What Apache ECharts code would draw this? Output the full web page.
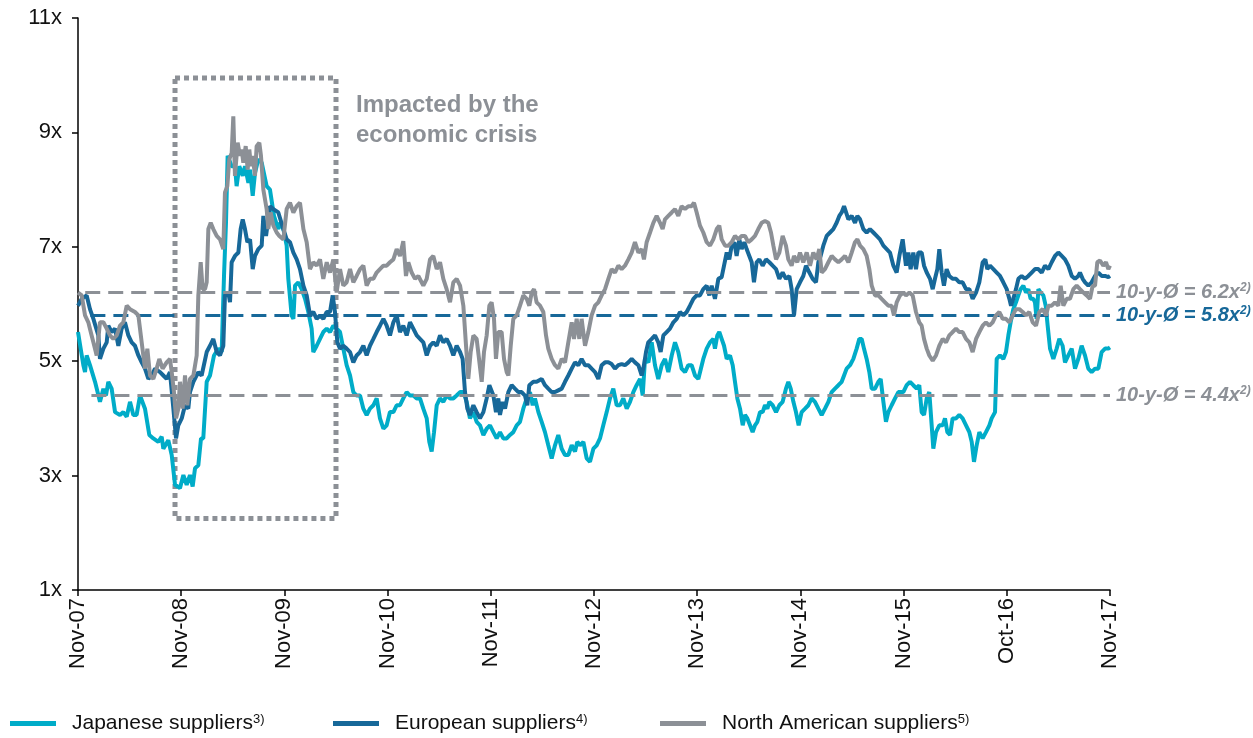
<!DOCTYPE html>
<html><head><meta charset="utf-8">
<script src="https://cdn.jsdelivr.net/npm/echarts@6.0.0/dist/echarts.min.js"></script>
<style>html,body{margin:0;padding:0;background:#fff}#c{width:1253px;height:738px}</style>
</head><body><div id="c"></div>
<script>
// x in years since Nov-07 (0..10)
const xLabels = ['Nov-07','Nov-08','Nov-09','Nov-10','Nov-11','Nov-12','Nov-13','Nov-14','Nov-15','Oct-16','Nov-17'];
const seriesNames = ['Japanese suppliers','European suppliers','North American suppliers'];
const seriesNotes = ['3)','4)','5)'];

const japanese = [
[0,5.51],[0.052,4.93],[0.068,4.81],[0.084,5.10],[0.116,4.93],[0.165,4.64],[0.213,4.29],[0.246,4.52],[0.271,4.40],[0.294,4.64],[0.326,4.52],[0.359,4.11],[0.407,4.06],[0.439,4.11],[0.472,4.03],[0.504,4.29],[0.536,4.06],[0.568,4.06],[0.601,4.40],[0.649,4.17],[0.691,3.71],[0.730,3.65],[0.778,3.59],[0.811,3.68],[0.827,3.47],[0.875,3.62],[0.908,3.36],[0.940,2.84],[0.988,2.78],[1.021,3.01],[1.053,2.84],[1.085,3.01],[1.111,2.81],[1.134,3.13],[1.166,3.18],[1.192,3.65],[1.214,3.65],[1.247,4.64],[1.279,4.75],[1.318,5.10],[1.360,5.22],[1.392,5.16],[1.415,6.50],[1.434,7.42],[1.450,8.59],[1.489,8.41],[1.521,8.41],[1.537,8.06],[1.563,8.41],[1.596,8.24],[1.618,8.41],[1.651,8.12],[1.667,8.35],[1.693,7.89],[1.715,8.29],[1.747,8.53],[1.780,8.47],[1.828,8.06],[1.860,8.00],[1.899,7.54],[1.941,7.31],
[1.957,7.42],[1.990,7.31],[2.022,7.02],[2.038,6.44],[2.070,5.80],[2.087,5.74],[2.103,6.32],[2.135,6.38],[2.167,6.26],[2.200,6.09],[2.232,5.86],[2.264,5.57],[2.280,5.16],[2.313,5.27],[2.345,5.39],[2.377,5.51],[2.410,5.57],[2.442,5.51],[2.474,5.62],[2.506,5.57],[2.539,5.51],[2.571,5.22],[2.603,4.93],[2.636,4.75],[2.668,4.46],[2.700,4.40],[2.733,4.40],[2.765,4.17],[2.797,4.06],[2.829,4.17],[2.862,4.23],[2.894,4.35],[2.926,4.00],[2.959,3.82],[2.991,3.88],[3.023,4.11],[3.056,4.11],[3.088,4.23],[3.120,4.23],[3.152,4.35],[3.185,4.46],[3.217,4.40],[3.249,4.40],[3.282,4.35],[3.314,4.35],[3.346,4.17],[3.379,4.00],[3.404,3.59],[3.427,3.42],[3.450,3.76],[3.476,4.23],[3.508,4.35],[3.540,4.29],[3.572,4.40],[3.605,4.35],[3.637,4.35],[3.669,4.40],[3.702,4.46],[3.734,4.46],[3.766,4.29],[3.798,4.00],[3.831,4.11],[3.863,3.94],[3.895,3.88],[3.928,3.71],[3.960,3.82],[3.992,3.88],
[4.025,3.76],[4.057,3.65],[4.089,3.76],[4.121,3.65],[4.154,3.65],[4.186,3.71],[4.218,3.76],[4.251,3.88],[4.283,3.94],[4.315,4.17],[4.348,4.35],[4.380,4.46],[4.406,4.23],[4.428,4.35],[4.461,4.11],[4.493,3.94],[4.525,3.76],[4.557,3.53],[4.590,3.30],[4.622,3.53],[4.654,3.71],[4.687,3.47],[4.719,3.36],[4.751,3.36],[4.784,3.53],[4.816,3.42],[4.838,3.59],[4.864,3.53],[4.897,3.59],[4.929,3.30],[4.961,3.24],[4.994,3.47],[5.026,3.53],[5.058,3.65],[5.090,3.88],[5.123,4.11],[5.155,4.35],[5.187,4.52],[5.220,4.23],[5.252,4.23],[5.284,4.35],[5.317,4.17],[5.349,4.29],[5.381,4.46],[5.413,4.58],[5.446,4.69],[5.472,4.40],[5.494,5.04],[5.527,4.98],[5.559,5.33],[5.591,4.93],[5.623,4.69],[5.656,4.93],[5.688,5.04],[5.720,4.81],[5.753,5.10],[5.785,5.33],[5.817,5.16],[5.849,4.87],[5.882,4.81],[5.914,4.93],[5.946,4.93],[5.979,4.75],[6.011,4.69],
[6.059,5.04],[6.092,5.22],[6.124,5.33],[6.156,5.39],[6.172,5.22],[6.195,5.45],[6.214,5.51],[6.237,5.39],[6.260,5.27],[6.286,5.04],[6.318,5.10],[6.344,4.93],[6.366,4.64],[6.389,4.35],[6.415,4.17],[6.441,3.88],[6.463,4.06],[6.486,4.00],[6.512,3.88],[6.537,3.76],[6.560,3.88],[6.583,3.94],[6.609,4.11],[6.634,4.11],[6.657,4.23],[6.680,4.17],[6.699,4.29],[6.731,4.23],[6.764,4.11],[6.796,4.23],[6.828,4.29],[6.860,4.52],[6.883,4.64],[6.906,4.52],[6.932,4.29],[6.957,4.11],[6.983,3.88],[7.012,4.11],[7.045,4.17],[7.077,4.23],[7.109,4.35],[7.141,4.29],[7.174,4.17],[7.206,4.06],[7.238,4.17],[7.271,4.29],[7.303,4.46],[7.335,4.52],[7.368,4.58],[7.400,4.64],[7.423,4.75],[7.448,4.87],[7.481,4.93],[7.513,5.04],[7.545,5.22],[7.571,5.39],[7.594,5.39],[7.616,5.22],[7.642,5.04],[7.668,4.81],[7.691,4.52],[7.723,4.52],[7.755,4.64],[7.778,4.69],[7.804,4.29],[7.829,3.94],[7.852,4.11],[7.884,4.23],[7.917,4.35],[7.949,4.46],
[7.997,4.46],[8.030,4.58],[8.062,4.64],[8.094,4.58],[8.127,4.52],[8.152,4.58],[8.175,4.11],[8.198,4.06],[8.224,4.35],[8.249,4.46],[8.272,3.88],[8.288,3.47],[8.314,3.76],[8.346,3.88],[8.379,3.88],[8.401,4.00],[8.424,3.76],[8.450,3.71],[8.475,4.00],[8.508,4.00],[8.540,4.06],[8.572,4.00],[8.605,3.88],[8.637,3.76],[8.660,3.59],[8.682,3.24],[8.708,3.53],[8.734,3.76],[8.766,3.65],[8.798,3.76],[8.831,3.88],[8.853,4.00],[8.886,4.11],[8.902,5.04],[8.934,5.10],[8.966,5.04],[8.992,5.16],[9.015,5.45],[9.037,5.68],[9.063,5.91],[9.089,6.03],[9.112,6.15],[9.134,6.26],[9.160,6.32],[9.186,6.20],[9.209,6.26],[9.231,6.09],[9.257,6.09],[9.273,6.03],[9.289,5.74],[9.306,6.26],[9.328,6.20],[9.354,6.15],[9.377,5.97],[9.396,5.62],[9.419,5.22],[9.451,5.04],[9.483,5.22],[9.509,5.39],[9.541,5.27],[9.564,4.98],[9.596,5.10],[9.629,5.22],[9.661,4.87],[9.693,5.04],[9.725,5.27],[9.758,5.10],[9.790,4.87],[9.822,4.81],[9.855,4.87],[9.887,4.87],[9.919,5.16],[9.952,5.22],[9.984,5.22],[10.0,5.24]
];

const european = [
[0,5.97],[0.036,6.09],[0.084,6.15],[0.116,5.91],[0.149,5.74],[0.197,5.45],[0.213,5.04],[0.246,5.22],[0.278,5.33],[0.294,5.62],[0.326,5.51],[0.359,5.57],[0.391,5.27],[0.423,5.57],[0.455,5.68],[0.488,5.45],[0.520,5.33],[0.552,5.27],[0.585,5.10],[0.617,4.98],[0.649,4.87],[0.682,4.69],[0.714,4.75],[0.746,4.87],[0.795,4.81],[0.827,4.75],[0.859,4.69],[0.891,4.81],[0.924,4.17],[0.950,3.65],[0.972,3.88],[1.005,4.00],[1.037,4.23],[1.069,4.17],[1.085,4.46],[1.118,4.64],[1.166,4.81],[1.198,4.75],[1.214,4.75],[1.247,5.16],[1.279,5.27],[1.311,5.39],[1.344,5.16],[1.376,5.10],[1.408,5.27],[1.424,6.15],[1.457,6.20],[1.473,6.03],[1.489,6.73],[1.521,6.84],[1.554,6.90],[1.576,7.31],[1.596,7.48],[1.618,7.31],[1.641,7.08],[1.667,7.13],[1.693,6.61],[1.715,6.84],[1.747,6.96],[1.780,7.02],[1.796,7.54],[1.822,7.19],[1.860,7.71],[1.893,7.66],[1.941,7.60],
[1.957,7.60],[1.990,7.31],[2.022,7.13],[2.054,7.08],[2.087,6.90],[2.119,6.78],[2.151,6.61],[2.184,6.32],[2.216,6.15],[2.248,5.80],[2.280,5.86],[2.313,5.74],[2.345,5.80],[2.377,5.74],[2.410,5.86],[2.442,5.86],[2.468,6.15],[2.490,5.86],[2.513,5.33],[2.539,5.22],[2.571,5.27],[2.603,5.22],[2.636,5.16],[2.668,4.98],[2.700,5.10],[2.733,5.16],[2.765,5.27],[2.797,5.10],[2.829,5.27],[2.862,5.39],[2.894,5.51],[2.926,5.62],[2.959,5.74],[2.991,5.62],[3.023,5.45],[3.056,5.68],[3.088,5.80],[3.120,5.51],[3.152,5.62],[3.185,5.45],[3.217,5.68],[3.249,5.57],[3.282,5.45],[3.314,5.39],[3.346,5.33],[3.379,5.10],[3.411,5.27],[3.443,5.33],[3.476,5.27],[3.508,5.45],[3.540,5.33],[3.572,5.39],[3.605,5.27],[3.637,5.10],[3.669,5.27],[3.702,5.16],[3.727,5.04],[3.750,4.46],[3.773,4.17],[3.798,4.06],[3.831,4.23],[3.863,4.11],[3.895,4.00],[3.928,4.11],[3.960,4.35],[3.986,4.58],
[4.025,4.40],[4.050,4.11],[4.073,4.35],[4.089,4.06],[4.115,4.29],[4.138,4.17],[4.170,4.46],[4.202,4.58],[4.234,4.52],[4.267,4.46],[4.299,4.46],[4.331,4.40],[4.354,4.23],[4.373,4.58],[4.412,4.64],[4.444,4.64],[4.493,4.69],[4.525,4.58],[4.557,4.52],[4.590,4.46],[4.622,4.46],[4.654,4.49],[4.687,4.52],[4.719,4.64],[4.751,4.75],[4.784,4.87],[4.816,4.98],[4.848,4.93],[4.880,5.04],[4.913,4.93],[4.945,4.93],[4.977,4.87],[5.010,4.81],[5.042,4.69],[5.074,4.93],[5.107,4.98],[5.139,4.98],[5.171,4.95],[5.203,4.87],[5.236,4.93],[5.268,4.95],[5.300,4.93],[5.333,4.98],[5.365,5.04],[5.397,4.98],[5.430,4.93],[5.462,4.75],[5.484,4.93],[5.504,5.16],[5.526,5.33],[5.559,5.39],[5.591,5.45],[5.623,5.33],[5.646,5.16],[5.672,5.45],[5.704,5.51],[5.736,5.57],[5.769,5.68],[5.801,5.74],[5.833,5.86],[5.866,5.80],[5.898,5.86],[5.930,5.97],[5.963,6.09],[5.995,6.15],[6.027,6.15],
[6.059,6.26],[6.092,6.32],[6.118,6.15],[6.140,6.32],[6.172,6.09],[6.205,6.44],[6.237,6.47],[6.260,6.67],[6.286,6.90],[6.311,6.78],[6.334,7.02],[6.360,7.08],[6.382,6.84],[6.408,7.13],[6.431,6.96],[6.457,7.08],[6.479,6.96],[6.505,6.84],[6.528,6.73],[6.550,6.38],[6.576,6.73],[6.602,6.78],[6.634,6.67],[6.667,6.78],[6.699,6.73],[6.731,6.67],[6.764,6.61],[6.796,6.44],[6.828,6.55],[6.860,6.44],[6.893,6.49],[6.915,6.26],[6.938,5.80],[6.964,6.26],[6.996,6.38],[7.028,6.49],[7.054,6.67],[7.087,6.55],[7.119,6.44],[7.151,6.38],[7.174,6.73],[7.196,6.84],[7.222,7.02],[7.255,7.19],[7.287,7.25],[7.319,7.31],[7.351,7.42],[7.377,7.54],[7.400,7.60],[7.423,7.71],[7.442,7.74],[7.465,7.48],[7.497,7.54],[7.529,7.42],[7.552,7.54],[7.578,7.48],[7.610,7.31],[7.642,7.25],[7.674,7.31],[7.707,7.25],[7.739,7.19],[7.771,7.13],[7.804,7.02],[7.836,6.96],[7.868,6.90],[7.901,6.67],[7.933,6.55],[7.959,6.84],
[7.991,7.13],[8.023,6.67],[8.046,6.90],[8.068,6.61],[8.094,6.90],[8.120,6.61],[8.143,6.90],[8.175,6.90],[8.198,6.67],[8.224,6.55],[8.256,6.44],[8.282,6.26],[8.304,6.44],[8.327,6.61],[8.346,6.96],[8.369,6.55],[8.391,6.32],[8.417,6.61],[8.443,6.49],[8.475,6.44],[8.508,6.44],[8.540,6.38],[8.572,6.38],[8.605,6.26],[8.637,6.26],[8.669,6.09],[8.702,6.20],[8.734,6.38],[8.766,6.73],[8.792,6.78],[8.811,6.61],[8.837,6.67],[8.870,6.61],[8.902,6.55],[8.934,6.49],[8.966,6.38],[8.999,6.26],[9.025,6.09],[9.041,5.97],[9.063,6.09],[9.089,6.26],[9.112,6.44],[9.144,6.49],[9.176,6.44],[9.209,6.49],[9.241,6.55],[9.273,6.61],[9.306,6.61],[9.338,6.55],[9.370,6.67],[9.403,6.61],[9.435,6.73],[9.467,6.84],[9.499,6.90],[9.532,6.84],[9.564,6.78],[9.596,6.67],[9.629,6.49],[9.661,6.44],[9.693,6.49],[9.709,6.55],[9.735,6.44],[9.758,6.38],[9.790,6.32],[9.822,6.38],[9.855,6.49],[9.887,6.55],[9.919,6.49],[9.952,6.49],[9.984,6.47],[10.0,6.49]
];

const northAmerican = [
[0,6.20],[0.036,6.15],[0.068,5.80],[0.100,5.68],[0.132,5.45],[0.149,5.33],[0.181,5.10],[0.213,5.68],[0.246,5.68],[0.278,5.57],[0.310,5.45],[0.342,5.39],[0.375,5.45],[0.407,5.62],[0.439,5.68],[0.472,5.97],[0.504,5.91],[0.552,5.86],[0.585,5.80],[0.617,5.33],[0.649,4.87],[0.672,5.22],[0.698,4.75],[0.730,4.69],[0.762,4.87],[0.788,5.04],[0.820,4.87],[0.859,4.98],[0.891,5.04],[0.908,4.81],[0.930,4.46],[0.950,4.00],[0.972,4.17],[0.988,4.64],[1.014,4.17],[1.037,4.75],[1.059,4.23],[1.085,4.69],[1.118,4.75],[1.150,5.10],[1.166,6.15],[1.189,6.73],[1.208,6.26],[1.231,6.26],[1.247,6.38],[1.263,7.31],[1.286,7.42],[1.311,7.31],[1.344,7.19],[1.376,7.13],[1.408,6.96],[1.424,7.95],[1.447,8.06],[1.466,8.53],[1.489,8.64],[1.505,9.28],[1.521,8.24],[1.547,8.82],[1.570,8.59],[1.586,8.70],[1.602,8.47],[1.625,8.76],[1.644,8.35],[1.660,8.70],[1.676,8.41],[1.693,8.59],[1.715,8.24],[1.731,8.76],[1.757,8.82],[1.773,8.59],[1.796,8.00],[1.828,7.66],[1.844,7.31],[1.867,7.60],[1.893,7.37],[1.925,7.25],[1.951,7.19],
[1.990,7.13],[2.022,7.66],[2.054,7.77],[2.087,7.60],[2.119,7.71],[2.151,7.77],[2.184,7.31],[2.216,7.08],[2.248,6.61],[2.280,6.73],[2.313,6.67],[2.345,6.78],[2.377,6.44],[2.410,6.73],[2.442,6.55],[2.474,6.78],[2.506,6.20],[2.539,6.61],[2.571,6.32],[2.603,6.38],[2.636,6.61],[2.668,6.38],[2.700,6.49],[2.733,6.61],[2.765,6.67],[2.797,6.32],[2.829,6.44],[2.862,6.44],[2.894,6.55],[2.926,6.61],[2.959,6.67],[2.991,6.67],[3.023,6.73],[3.056,6.78],[3.088,6.96],[3.120,6.84],[3.152,7.10],[3.178,6.49],[3.201,6.73],[3.233,6.55],[3.266,6.44],[3.298,6.49],[3.346,6.32],[3.379,6.44],[3.411,6.78],[3.443,6.84],[3.476,6.61],[3.508,6.73],[3.540,6.44],[3.572,6.26],[3.605,6.03],[3.637,6.38],[3.669,6.44],[3.702,6.32],[3.734,5.97],[3.760,5.27],[3.782,4.69],[3.805,5.16],[3.831,5.45],[3.863,5.39],[3.886,5.04],[3.912,4.64],[3.934,5.16],[3.960,5.45],[3.986,5.97],
[4.008,6.03],[4.031,5.74],[4.050,5.04],[4.073,5.51],[4.105,5.51],[4.128,5.04],[4.154,4.81],[4.170,4.75],[4.193,5.27],[4.218,5.74],[4.251,5.80],[4.283,5.97],[4.315,6.15],[4.348,6.09],[4.373,5.97],[4.396,6.20],[4.419,6.26],[4.444,6.03],[4.477,5.97],[4.509,5.86],[4.535,5.45],[4.557,5.22],[4.590,5.04],[4.622,4.93],[4.654,4.87],[4.687,5.04],[4.719,4.98],[4.751,5.33],[4.784,5.68],[4.806,5.39],[4.832,5.74],[4.858,5.39],[4.880,5.74],[4.913,5.27],[4.945,5.51],[4.977,5.80],[5.010,5.97],[5.042,6.03],[5.074,6.15],[5.107,6.26],[5.139,6.44],[5.171,6.61],[5.203,6.55],[5.236,6.67],[5.268,6.61],[5.300,6.67],[5.333,6.78],[5.365,6.90],[5.397,7.08],[5.430,6.90],[5.462,6.96],[5.484,6.78],[5.510,7.08],[5.543,7.25],[5.575,7.42],[5.607,7.54],[5.640,7.42],[5.665,7.31],[5.688,7.48],[5.720,7.54],[5.753,7.60],[5.785,7.66],[5.817,7.54],[5.849,7.71],[5.882,7.66],[5.914,7.71],[5.946,7.71],[5.969,7.77],[5.995,7.60],[6.027,7.37],
[6.059,7.25],[6.092,7.08],[6.124,7.02],[6.156,7.13],[6.189,7.31],[6.214,7.37],[6.237,7.13],[6.270,7.02],[6.302,7.02],[6.334,7.08],[6.366,7.19],[6.399,7.13],[6.431,7.19],[6.463,7.19],[6.495,7.08],[6.528,7.13],[6.560,7.19],[6.592,7.31],[6.625,7.42],[6.657,7.45],[6.689,7.42],[6.715,7.25],[6.738,7.02],[6.764,6.78],[6.796,6.90],[6.828,7.19],[6.860,7.02],[6.883,6.78],[6.915,6.67],[6.938,6.84],[6.970,6.73],[6.996,6.90],[7.028,6.73],[7.061,6.90],[7.093,6.67],[7.125,6.90],[7.157,6.78],[7.183,6.96],[7.206,6.55],[7.238,6.61],[7.271,6.73],[7.303,6.84],[7.335,6.78],[7.368,6.73],[7.400,6.78],[7.432,6.84],[7.465,6.73],[7.497,6.90],[7.529,7.08],[7.552,7.13],[7.578,7.02],[7.610,6.96],[7.642,6.84],[7.668,6.61],[7.691,6.32],[7.723,6.15],[7.755,6.15],[7.787,6.09],[7.820,6.03],[7.852,5.97],[7.884,5.97],[7.907,5.80],[7.933,6.03],[7.965,6.15],
[7.997,6.20],[8.023,6.15],[8.056,6.20],[8.088,6.15],[8.120,5.86],[8.152,5.68],[8.175,5.62],[8.198,5.39],[8.224,5.22],[8.249,5.10],[8.282,5.01],[8.314,5.10],[8.346,5.27],[8.379,5.39],[8.411,5.33],[8.443,5.45],[8.475,5.51],[8.508,5.57],[8.540,5.51],[8.572,5.51],[8.605,5.39],[8.637,5.33],[8.669,5.16],[8.702,5.39],[8.734,5.51],[8.766,5.62],[8.798,5.68],[8.831,5.62],[8.863,5.68],[8.895,5.80],[8.928,5.86],[8.960,5.74],[8.992,5.74],[9.025,5.68],[9.057,5.80],[9.089,5.91],[9.121,5.91],[9.154,5.86],[9.186,5.80],[9.218,5.86],[9.251,5.68],[9.283,5.62],[9.315,5.86],[9.348,5.91],[9.380,5.80],[9.403,5.97],[9.435,5.97],[9.467,6.03],[9.499,5.97],[9.522,6.32],[9.548,5.97],[9.580,6.09],[9.612,6.09],[9.645,6.26],[9.677,6.32],[9.709,6.26],[9.742,6.20],[9.774,6.15],[9.806,6.09],[9.832,6.32],[9.855,6.32],[9.877,6.73],[9.903,6.76],[9.935,6.67],[9.961,6.73],[9.984,6.61],[10.0,6.67]
];

// 10-year averages
const avgValues = [6.2, 5.8, 4.4];
const avgStarts = [0.07, 0.12, 0.13];
const avgLabels = ['10-y-Ø = 6.2x', '10-y-Ø = 5.8x', '10-y-Ø = 4.4x'];
// crisis box corners [year, multiple]
const crisisBox = [[0.94, 9.95], [2.50, 2.25]];
const crisisText = ['Impacted by the', 'economic crisis'];

const colors = ['#00ACC8', '#176899', '#8C9096'];
const avgColors = ['#8C9096', '#176899', '#8C9096'];
const FONT = "'Liberation Sans', Arial, sans-serif";

const chart = echarts.init(document.getElementById('c'), null, {renderer: 'canvas'});

const supRich = (color) => ({
  a: {fontFamily: FONT, fontSize: 20, fontStyle: 'italic', fontWeight: 'bold', color: color, lineHeight: 22},
  s: {fontFamily: FONT, fontSize: 12, fontStyle: 'italic', fontWeight: 'bold', color: color, verticalAlign: 'top', lineHeight: 22, padding: [0,0,10,0]}
});

const markLineData = avgValues.map((v, i) => [
  {coord: [avgStarts[i], v],
   lineStyle: {color: avgColors[i], width: 3, type: [15, 8]},
   label: {show: true, position: 'end', distance: 6, formatter: '{a|' + avgLabels[i] + '}{s|2)}', rich: supRich(avgColors[i])}},
  {coord: [10, v]}
]);

const legendRich = {
  n: {fontFamily: FONT, fontSize: 21, color: '#111', padding: [0,0,0,11]},
  s: {fontFamily: FONT, fontSize: 13, color: '#111', verticalAlign: 'top', padding: [0,0,8,0]}
};
const legendLefts = [10, 333, 660];

const option = {
  animation: false,
  backgroundColor: '#fff',
  grid: {left: 78, right: 143, top: 18, bottom: 148, containLabel: false},
  legend: seriesNames.map((n, i) => ({
    data: [n], left: legendLefts[i], top: 713, padding: 0, icon: 'rect', itemWidth: 46, itemHeight: 5,
    selectedMode: false,
    formatter: name => '{n|' + name + '}{s|' + seriesNotes[i] + '}',
    textStyle: {rich: legendRich}
  })),
  xAxis: {
    type: 'value', min: 0, max: 10, interval: 1,
    axisLine: {show: true, lineStyle: {color: '#000', width: 1.5}},
    axisTick: {show: true, length: 6, lineStyle: {color: '#000', width: 1.5}},
    splitLine: {show: false},
    axisLabel: {rotate: 90, margin: 8, fontFamily: FONT, fontSize: 22, color: '#111',
      formatter: v => xLabels[Math.round(v)] || ''}
  },
  yAxis: {
    type: 'value', min: 1, max: 11, interval: 2,
    axisLine: {show: true, lineStyle: {color: '#000', width: 1.5}},
    axisTick: {show: true, length: 6, lineStyle: {color: '#000', width: 1.5}},
    splitLine: {show: false},
    axisLabel: {margin: 16, fontFamily: FONT, fontSize: 22, color: '#111', formatter: '{value}x'}
  },
  graphic: [{
    type: 'text', left: 356, top: 90, silent: true,
    style: {text: crisisText.join('\n'), fontFamily: FONT, fontSize: 24, fontWeight: 'bold', fill: '#8C9096', lineHeight: 30}
  }],
  series: [
    {name: seriesNames[0], type: 'line', data: japanese, showSymbol: false, symbol: 'none', z: 3,
     lineStyle: {color: colors[0], width: 4}, itemStyle: {color: colors[0]}},
    {name: seriesNames[1], type: 'line', data: european, showSymbol: false, symbol: 'none', z: 4,
     lineStyle: {color: colors[1], width: 4}, itemStyle: {color: colors[1]}},
    {name: seriesNames[2], type: 'line', data: northAmerican, showSymbol: false, symbol: 'none', z: 5,
     lineStyle: {color: colors[2], width: 4}, itemStyle: {color: colors[2]}},
    {name: 'refs', type: 'line', data: [], z: 10, silent: true,
     markLine: {silent: true, symbol: ['none', 'none'], animation: false, data: markLineData},
     markArea: {silent: true, data: [[{coord: crisisBox[0]}, {coord: crisisBox[1]}]],
       itemStyle: {color: 'rgba(0,0,0,0)', borderColor: '#8C9096', borderWidth: 5, borderType: [5, 4]}}
    }
  ]
};
chart.setOption(option);
</script>
</body></html>
